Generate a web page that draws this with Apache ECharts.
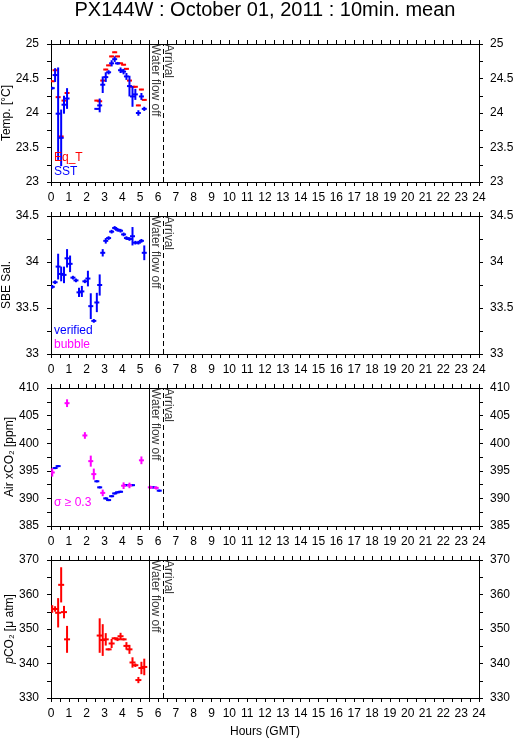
<!DOCTYPE html>
<html><head><meta charset="utf-8">
<script src="https://cdn.jsdelivr.net/npm/echarts@6/dist/echarts.min.js"></script>
<style>html,body{margin:0;padding:0;background:#fff}#c{width:515px;height:739px}</style>
</head><body><div id="c"></div>
<script>
// ---------- data ----------
const TITLE = 'PX144W : October 01, 2011 : 10min. mean';
const X_LABEL = 'Hours (GMT)';
const WATER_OFF = 5.5;
const ARRIVAL = 6.27;
const EVENT_LABELS = ['Water flow off', 'Arrival'];

// Panel 1: temperature
const tempTime = [0.07,0.23,0.40,0.57,0.73,0.90,2.57,2.73,2.90,3.07,3.23,3.40,3.57,3.73,3.90,4.07,4.23,4.40,4.57,4.73,4.90,5.07,5.23];
const sstVal = [24.36,24.55,23.99,23.64,24.12,24.21,24.06,24.11,24.41,24.52,24.59,24.72,24.78,24.72,24.62,24.60,24.53,24.39,24.24,24.27,24.00,24.24,24.06];
const sstErr = [0.02,0.10,0.67,0.41,0.13,0.15,0.01,0.10,0.12,0.07,0.03,0.045,0.04,0.02,0.04,0.04,0.05,0.15,0.15,0.08,0.04,0.05,0.03];
const eqVal = [24.46,24.62,24.23,23.66,24.18,24.29,24.18,24.17,24.47,24.63,24.69,24.82,24.88,24.82,24.72,24.70,24.64,24.47,24.38,24.38,24.11,24.34,24.19];
const eqErr = [0.01,0.01,0.01,0.01,0.01,0.01,0.01,0.01,0.01,0.01,0.01,0.01,0.01,0.01,0.01,0.01,0.01,0.01,0.01,0.01,0.01,0.01,0.01];

// Panel 2: salinity
const salTime = [0.07,0.23,0.40,0.57,0.73,0.90,1.07,1.23,1.40,1.57,1.73,1.90,2.07,2.23,2.40,2.57,2.73,2.90,3.07,3.23,3.40,3.57,3.73,3.90,4.07,4.23,4.40,4.57,4.73,4.90,5.07,5.23];
const salVal = [33.73,33.78,33.95,33.87,33.86,34.04,33.98,33.83,33.80,33.67,33.68,33.79,33.82,33.52,33.36,33.56,33.75,34.10,34.23,34.26,34.33,34.37,34.35,34.34,34.30,34.26,34.25,34.28,34.21,34.21,34.23,34.10];
const salErr = [0.02,0.02,0.14,0.08,0.09,0.10,0.09,0.02,0.02,0.05,0.06,0.02,0.085,0.14,0.02,0.105,0.115,0.04,0.03,0.02,0.02,0.02,0.02,0.02,0.02,0.02,0.02,0.10,0.02,0.02,0.02,0.08];

// Panel 3: air xCO2 (verified = blue, sigma >= 0.3 = magenta)
const airTimeV = [0.23,0.40,2.57,2.73,3.07,3.23,3.40,3.57,3.73,3.90,4.23,4.57,5.73,6.07];
const airValV = [395.5,395.85,393.1,392.0,390.0,389.7,390.4,390.9,391.1,391.2,392.4,392.4,392.0,391.4];
const airErrV = [0.2,0.2,0.2,0.2,0.2,0.2,0.2,0.2,0.2,0.2,0.2,0.2,0.2,0.2];
const airTimeS = [0.07,0.90,1.90,2.23,2.40,2.90,4.07,4.40,5.07,5.57,5.90];
const airValS = [394.7,407.25,401.4,396.75,394.4,391.0,392.3,392.35,396.9,392.0,391.9];
const airErrS = [0.75,0.7,0.6,1.0,1.0,0.6,0.6,0.5,0.7,0.3,0.3];

// Panel 4: pCO2
const pco2Time = [0.07,0.23,0.40,0.57,0.73,0.90,2.73,2.90,3.07,3.23,3.40,3.57,3.73,3.90,4.07,4.23,4.40,4.57,4.73,4.90,5.07,5.23];
const pco2Val = [355.8,355.8,354.7,362.8,354.9,347.0,348.1,346.8,347.0,344.1,345.8,347.3,347.0,347.9,347.0,345.1,344.1,340.3,339.5,335.2,338.7,339.0];
const pco2Err = [1.1,0.8,4.25,5.1,1.8,3.9,5.0,4.6,1.8,0.3,1.3,0.3,0.5,1.0,0.3,1.1,1.3,1.5,0.5,0.9,1.8,2.4];

const yNames = ['Temp. [°C]', 'SBE Sal.', 'Air xCO₂ [ppm]', '{it|p}CO₂ [μ atm]'];
const yMin = [23, 33, 385, 330];
const yMax = [25, 34.5, 410, 370];
const yInterval = [0.5, 0.5, 5, 10];
const xMin = 0, xMax = 24, xInterval = 1;

// ---------- layout / style ----------
const FONT = "'Liberation Sans', Arial, Helvetica, sans-serif";
const BLUE = '#0000ff', RED = '#ff0000', MAG = '#ff00ff';
const GL = 51, GW = 428, GT0 = 44, GSTEP = 172, GH = 138;
const nameGaps = [38, 38, 35, 35];

const chart = echarts.init(document.getElementById('c'), null, {renderer: 'canvas'});

const grids = [], xAxes = [], yAxes = [], series = [];
for (let i = 0; i < 4; i++) {
  grids.push({left: GL, width: GW, top: GT0 + GSTEP * i, height: GH, containLabel: false, outerBoundsMode: 'none'});
  const tick = {show: true, length: 4, inside: false, lineStyle: {color: '#000', width: 1}};
  const common = {
    type: 'value', gridIndex: i, min: xMin, max: xMax, interval: xInterval,
    axisLine: {show: true, onZero: false, lineStyle: {color: '#000', width: 1}},
    axisTick: tick,
    minorTick: {show: true, splitNumber: 2, length: 4, lineStyle: {color: '#000', width: 1}},
    splitLine: {show: false}, minorSplitLine: {show: false}
  };
  xAxes.push(Object.assign({}, common, {
    position: 'bottom',
    axisLabel: {show: true, color: '#000', fontSize: 12, fontFamily: FONT, margin: 10},
    name: i === 3 ? X_LABEL : '', nameLocation: 'middle', nameGap: 28, nameMoveOverlap: false,
    nameTextStyle: {color: '#000', fontSize: 12, fontFamily: FONT}
  }));
  xAxes.push(Object.assign({}, common, {position: 'top', axisLabel: {show: false}}));
  const ycommon = {
    type: 'value', gridIndex: i, min: yMin[i], max: yMax[i], interval: yInterval[i],
    axisLine: {show: true, onZero: false, lineStyle: {color: '#000', width: 1}},
    axisTick: tick,
    minorTick: {show: true, splitNumber: 2, length: 4, lineStyle: {color: '#000', width: 1}},
    splitLine: {show: false}, minorSplitLine: {show: false}
  };
  yAxes.push(Object.assign({}, ycommon, {
    position: 'left',
    axisLabel: {show: true, color: '#000', fontSize: 12, fontFamily: FONT, margin: 12},
    name: yNames[i], nameLocation: 'middle', nameGap: nameGaps[i], nameMoveOverlap: false,
    nameTextStyle: {color: '#000', fontSize: 12, fontFamily: FONT,
      rich: {it: {fontStyle: 'italic', fontSize: 12, fontFamily: FONT, color: '#000'}}}
  }));
  yAxes.push(Object.assign({}, ycommon, {
    position: 'right',
    axisLabel: {show: true, color: '#000', fontSize: 12, fontFamily: FONT, margin: 11}
  }));

  // event lines + labels
  series.push({
    type: 'scatter', xAxisIndex: 2 * i, yAxisIndex: 2 * i, z: 5, silent: true,
    symbolSize: 0.01, itemStyle: {color: 'rgba(0,0,0,0)'},
    data: [[WATER_OFF, yMax[i], EVENT_LABELS[0]], [ARRIVAL, yMax[i], EVENT_LABELS[1]]],
    label: {show: true, formatter: p => p.value[2], position: [0, 0], rotate: -90,
      align: 'left', verticalAlign: 'bottom', offset: [0, 0],
      color: '#000', fontSize: 12, fontFamily: FONT},
    markLine: {silent: true, symbol: 'none', label: {show: false},
      lineStyle: {color: '#000', width: 1},
      data: [{xAxis: WATER_OFF, lineStyle: {type: 'solid', color: '#000', width: 1}},
             {xAxis: ARRIVAL, lineStyle: {type: [5, 3], color: '#000', width: 1}}]}
  });
}

function errSeries(i, times, vals, errs, color, hw) {
  return {
    type: 'custom', xAxisIndex: 2 * i, yAxisIndex: 2 * i, z: 3, clip: true,
    itemStyle: {color: color},
    data: times.map((t, k) => [t, vals[k], errs[k]]),
    renderItem: function (params, api) {
      const x = api.value(0), y = api.value(1), e = api.value(2);
      const c = api.coord([x, y]);
      const lo = api.coord([x, y - e]);
      const hi = api.coord([x, y + e]);
      return {type: 'group', children: [
        {type: 'line', shape: {x1: c[0], y1: lo[1], x2: c[0], y2: hi[1]}, style: {stroke: color, lineWidth: 2}},
        {type: 'line', shape: {x1: c[0] - hw, y1: c[1], x2: c[0] + hw, y2: c[1]}, style: {stroke: color, lineWidth: 2}}
      ]};
    }
  };
}
series.push(errSeries(0, tempTime, eqVal, eqErr, RED, 2.5));
series.push(errSeries(0, tempTime, sstVal, sstErr, BLUE, 2.5));
series.push(errSeries(1, salTime, salVal, salErr, BLUE, 2.5));
series.push(errSeries(2, airTimeV, airValV, airErrV, BLUE, 2.5));
series.push(errSeries(2, airTimeS, airValS, airErrS, MAG, 2.5));
series.push(errSeries(3, pco2Time, pco2Val, pco2Err, RED, 3));

const txt = (t, x, y, color, size) => ({type: 'text', x: x, y: y, z: 10,
  style: {text: t, fill: color, font: (size || 12) + 'px ' + FONT, align: 'left', verticalAlign: 'top'}});

chart.setOption({
  animation: false,
  backgroundColor: '#fff',
  grid: grids, xAxis: xAxes, yAxis: yAxes, series: series,
  graphic: [
    {type: 'text', x: 265, y: 0, style: {text: TITLE, fill: '#000', font: '20px ' + FONT, align: 'center', verticalAlign: 'top'}},
    txt('Eq_T', 54, 152, RED), txt('SST', 54, 166, BLUE),
    txt('verified', 54, 325, BLUE), txt('bubble', 54, 339, MAG),
    txt('σ ≥ 0.3', 54, 497, MAG)
  ]
});
</script></body></html>
